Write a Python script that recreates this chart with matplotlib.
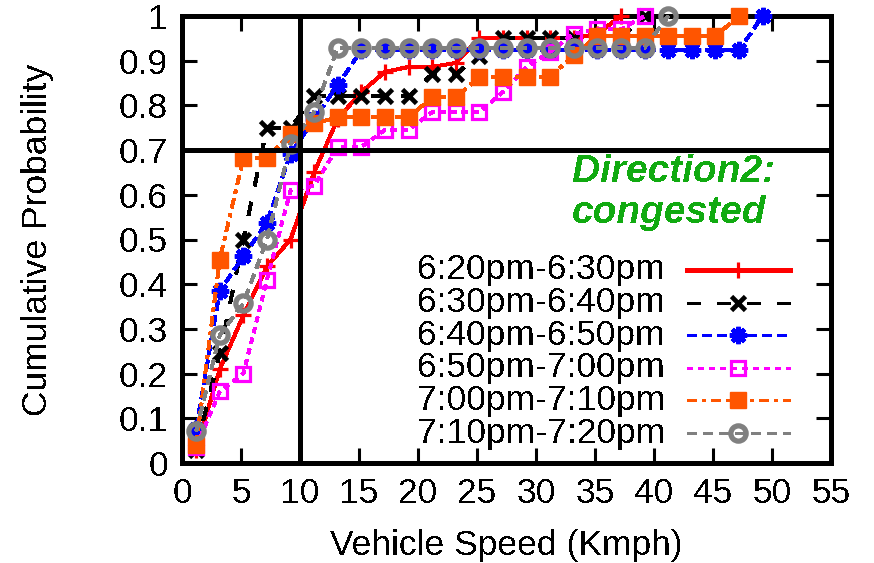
import matplotlib
matplotlib.use("Agg")
import matplotlib.pyplot as plt

plt.rcParams["font.family"] = ["Liberation Sans", "DejaVu Sans"]
plt.rcParams["lines.scale_dashes"] = False
plt.rcParams["lines.antialiased"] = False
plt.rcParams["text.antialiased"] = False
plt.rcParams["patch.antialiased"] = False

# Speed bins (Kmph) shared by all intervals
speed = [1.2, 3.2, 5.2, 7.2, 9.2, 11.2, 13.2, 15.2, 17.2, 19.2, 21.2, 23.2,
         25.2, 27.2, 29.2, 31.2, 33.2, 35.2, 37.2, 39.2, 41.2, 43.2, 45.2,
         47.2, 49.2]

# Cumulative probability per 10-minute interval
cdf_620 = [0.03, 0.21, 0.33, 0.44, 0.50, 0.65, 0.77, 0.83, 0.875, 0.886,
           0.886, 0.895, 0.95, 0.95, 0.95, 0.95, 0.95, 0.96, 1.0]
cdf_630 = [0.03, 0.245, 0.50, 0.75, 0.75, 0.82, 0.82, 0.82, 0.82, 0.82,
           0.87, 0.87, 0.91, 0.95, 0.95, 0.95, 0.95, 0.95, 0.95, 1.0]
cdf_640 = [0.077, 0.385, 0.462, 0.538, 0.692, 0.769, 0.846] + [0.923] * 17 + [1.0]
cdf_650 = [0.036, 0.16, 0.20, 0.41, 0.61, 0.62, 0.707, 0.707, 0.745, 0.745,
           0.785, 0.785, 0.785, 0.83, 0.886, 0.92, 0.96, 0.97, 0.97, 1.0]
cdf_700 = [0.04, 0.455, 0.682, 0.682, 0.735, 0.76, 0.773, 0.773, 0.773,
           0.773, 0.818, 0.818, 0.864, 0.864, 0.864, 0.864, 0.912, 0.955,
           0.955, 0.955, 0.955, 0.955, 0.955, 1.0]
cdf_710 = [0.071, 0.286, 0.357, 0.5, 0.714, 0.786] + [0.929] * 14 + [1.0]

labels = ["6:20pm-6:30pm", "6:30pm-6:40pm", "6:40pm-6:50pm",
          "6:50pm-7:00pm", "7:00pm-7:10pm", "7:10pm-7:20pm"]
series = [cdf_620, cdf_630, cdf_640, cdf_650, cdf_700, cdf_710]

xticks = list(range(0, 56, 5))
yticks = [0, 0.1, 0.2, 0.3, 0.4, 0.5, 0.6, 0.7, 0.8, 0.9, 1.0]
ytick_labels = ["0", "0.1", "0.2", "0.3", "0.4", "0.5", "0.6", "0.7", "0.8", "0.9", "1"]

LW = 2.2
FS = 25.5
styles = [
    dict(color="#ff0000", linestyle="-", marker="+", ms=11, mew=2.3, mfc="#ff0000"),
    dict(color="#000000", dashes=(10, 12), marker="x", ms=10.5, mew=3.4, mfc="#000000"),
    dict(color="#0000ff", dashes=(6.5, 3.6), marker=(8, 2, 0), ms=12.5, mew=3.2, mfc="#0000ff"),
    dict(color="#ff00ff", dashes=(3.6, 3.6), marker="s", ms=10.5, mew=2.3, mfc="none"),
    dict(color="#ff5500", dashes=(7, 3.6, 2.2, 3.6), marker="s", ms=12, mew=1, mfc="#ff5500"),
    dict(color="#808080", dashes=(7, 5), marker="o", ms=11, mew=3.8, mfc="none"),
]

fig = plt.figure(figsize=(8.74, 5.63), dpi=100)
ax = fig.add_axes([182 / 874, 1 - 463 / 563, 649 / 874, 447 / 563])

for cdf, st in zip(series, styles):
    ax.plot(speed[:len(cdf)], cdf, lw=LW, clip_on=False, zorder=3, **st)

ax.axvline(10, color="black", lw=LW, zorder=4)
ax.axhline(0.7, color="black", lw=LW, zorder=4)

ax.set_xlim(0, 55)
ax.set_ylim(0, 1)
ax.set_xticks(xticks)
ax.set_xticklabels([str(t) for t in xticks])
ax.set_yticks(yticks)
ax.set_yticklabels(ytick_labels)
ax.tick_params(direction="in", length=11, width=LW, top=True, right=True,
               labelsize=FS, pad=10)
for sp in ax.spines.values():
    sp.set_linewidth(LW)

ax.set_xlabel("Vehicle Speed (Kmph)", fontsize=FS)
ax.xaxis.label.set_va("center")
ax.xaxis.set_label_coords(0.5, (463 - 545) / 447)
ax.set_ylabel("Cumulative Probability", fontsize=FS)
ax.yaxis.label.set_va("center")
ax.yaxis.set_label_coords((38 - 182) / 649, 0.5)

# Annotation
green = "#11aa11"
ax.text(33.05, 0.651, "Direction2:", color=green, fontsize=28, fontweight="bold",
        fontstyle="italic", ha="left", va="center", zorder=5)
ax.text(33.05, 0.559, "congested", color=green, fontsize=28, fontweight="bold",
        fontstyle="italic", ha="left", va="center", zorder=5)

# Key (text right-aligned, sample line to its right)
x_text = (665 - 182) / 649
x0, x1 = (687 - 182) / 649, (790 - 182) / 649
xm = (738 - 182) / 649
for i, (lab, st) in enumerate(zip(labels, styles)):
    yy = (463 - (270 + 32.6 * i)) / 447
    line_st = {k: v for k, v in st.items() if k not in ("marker", "ms", "mew", "mfc")}
    ax.plot([x0, x1], [yy, yy], transform=ax.transAxes, lw=LW, clip_on=False,
            zorder=5, **line_st)
    ax.plot([xm], [yy], transform=ax.transAxes, linestyle="none", clip_on=False,
            zorder=6, color=st["color"], marker=st["marker"], ms=st["ms"],
            mew=st["mew"], mfc=st["mfc"])
    ax.text(x_text, yy, lab, transform=ax.transAxes, ha="right", va="center",
            fontsize=FS, zorder=6)

fig.savefig("out.png", dpi=100)
